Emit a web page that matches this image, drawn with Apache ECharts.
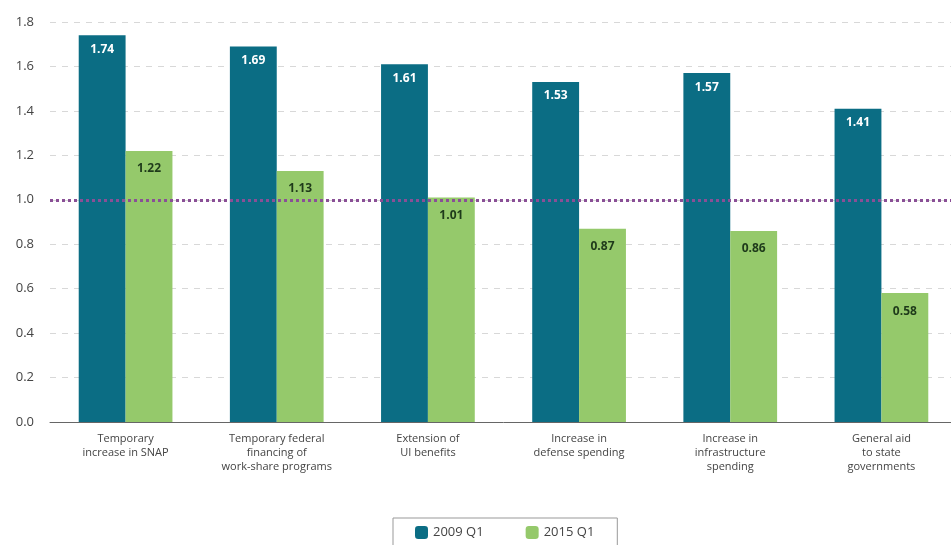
<!DOCTYPE html>
<html>
<head>
<meta charset="utf-8">
<script src="https://cdn.jsdelivr.net/npm/echarts@6/dist/echarts.min.js"></script>
<style>
  html, body { margin: 0; padding: 0; background: #fff; overflow: hidden; }
  /* slightly wider than the window: the original plot runs past the right edge */
  #chart { width: 957px; height: 545px; }
</style>
</head>
<body>
<div id="chart"></div>
<script>
// categories and values
const categories = [
  'Temporary\nincrease in SNAP',
  'Temporary federal\nfinancing of\nwork-share programs',
  'Extension of\nUI benefits',
  'Increase in\ndefense spending',
  'Increase in\ninfrastructure\nspending',
  'General aid\nto state\ngovernments'
];
const q2009 = [1.74, 1.69, 1.61, 1.53, 1.57, 1.41];
const q2015 = [1.22, 1.13, 1.01, 0.87, 0.86, 0.58];
const refLine = 1.0;

const myChart = echarts.init(document.getElementById('chart'));
const option = {
  animation: false,
  textStyle: { fontFamily: 'Open Sans' },
  grid: { left: 50, right: 0, top: 22, bottom: 123 },
  legend: {
    bottom: -8,
    left: 393,
    itemWidth: 13,
    itemHeight: 13,
    itemGap: 42,
    padding: [8, 23, 14, 22],
    borderColor: '#999',
    borderWidth: 1,
    textStyle: { fontSize: 13, color: '#444' },
    data: ['2009 Q1', '2015 Q1']
  },
  xAxis: {
    type: 'category',
    data: categories,
    axisLine: { lineStyle: { color: '#666', width: 1 } },
    axisTick: { show: false },
    axisLabel: { color: '#444', fontSize: 11, lineHeight: 14, margin: 10 }
  },
  yAxis: {
    type: 'value',
    min: 0,
    max: 1.8,
    interval: 0.2,
    axisLine: { show: false },
    axisTick: { show: false },
    axisLabel: {
      color: '#444',
      fontSize: 13,
      margin: 16,
      formatter: v => v.toFixed(1)
    },
    splitLine: { lineStyle: { color: '#d8d8d8', type: [6, 6], width: 1 } }
  },
  series: [
    {
      name: '2009 Q1',
      type: 'bar',
      data: q2009,
      barGap: 0,
      barCategoryGap: '38%',
      itemStyle: { color: '#0b6d84' },
      label: {
        show: true,
        position: 'insideTop',
        distance: 8,
        color: '#fff',
        fontWeight: 'bold',
        fontSize: 12,
        formatter: p => p.value.toFixed(2)
      }
    },
    {
      name: '2015 Q1',
      type: 'bar',
      data: q2015,
      itemStyle: { color: '#95c96b' },
      label: {
        show: true,
        position: 'insideTop',
        distance: 12,
        color: '#1e3a1a',
        fontWeight: 'bold',
        fontSize: 12,
        formatter: p => p.value.toFixed(2)
      },
      markLine: {
        silent: true,
        symbol: 'none',
        label: { show: false },
        lineStyle: { color: '#8a4f96', type: [3, 3], width: 3 },
        data: [{ yAxis: refLine }]
      }
    }
  ]
};
myChart.setOption(option);
</script>
</body>
</html>
